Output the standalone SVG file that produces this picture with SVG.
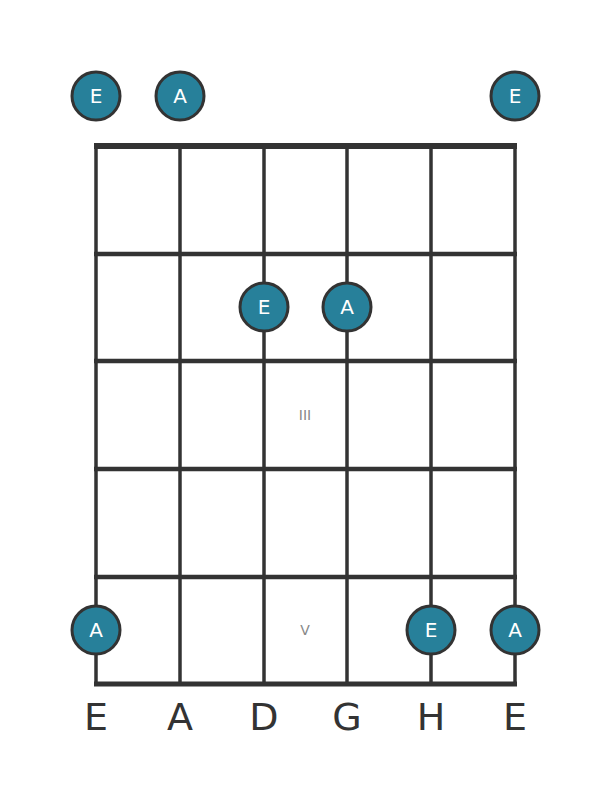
<svg xmlns="http://www.w3.org/2000/svg" width="611" height="801" viewBox="0 0 611 801">
<style>
.s{stroke:#333;stroke-width:3.5;fill:none}
.f{stroke:#333;stroke-width:4.5;fill:none}
.n circle{fill:#27809a;stroke:#333;stroke-width:3}
.n text{fill:#fff;font-family:"DejaVu Sans",sans-serif;font-size:20px;text-anchor:middle;dominant-baseline:central}
.lab{fill:#333;font-family:"DejaVu Sans",sans-serif;font-size:38px;text-anchor:middle}
.fr{fill:#888;font-family:"DejaVu Sans",sans-serif;font-size:14px;text-anchor:middle;dominant-baseline:central}
</style>
<rect width="611" height="801" fill="#fff"/>
<g id="connectors">
<line class="s" x1="96" y1="146" x2="96" y2="684"/>
<line class="s" x1="180" y1="146" x2="180" y2="684"/>
<line class="s" x1="264" y1="146" x2="264" y2="684"/>
<line class="s" x1="347" y1="146" x2="347" y2="684"/>
<line class="s" x1="431" y1="146" x2="431" y2="684"/>
<line class="s" x1="515" y1="146" x2="515" y2="684"/>
<line class="f" x1="94" y1="146" x2="517" y2="146" style="stroke-width:6"/>
<line class="f" x1="94" y1="254" x2="517" y2="254"/>
<line class="f" x1="94" y1="361" x2="517" y2="361"/>
<line class="f" x1="94" y1="469" x2="517" y2="469"/>
<line class="f" x1="94" y1="577" x2="517" y2="577"/>
<line class="f" x1="94" y1="684" x2="517" y2="684" style="stroke-width:5"/>
</g>
<text class="fr" x="305" y="415">III</text>
<text class="fr" x="305" y="630">V</text>
<g id="n1" class="n"><circle cx="96" cy="96" r="24"/><text x="96" y="96">E</text></g>
<g id="n2" class="n"><circle cx="180" cy="96" r="24"/><text x="180" y="96">A</text></g>
<g id="n3" class="n"><circle cx="515" cy="96" r="24"/><text x="515" y="96">E</text></g>
<g id="n4" class="n"><circle cx="264" cy="307" r="24"/><text x="264" y="307">E</text></g>
<g id="n5" class="n"><circle cx="347" cy="307" r="24"/><text x="347" y="307">A</text></g>
<g id="n6" class="n"><circle cx="96" cy="630" r="24"/><text x="96" y="630">A</text></g>
<g id="n7" class="n"><circle cx="431" cy="630" r="24"/><text x="431" y="630">E</text></g>
<g id="n8" class="n"><circle cx="515" cy="630" r="24"/><text x="515" y="630">A</text></g>
<g id="labels">
<text class="lab" x="96" y="730">E</text>
<text class="lab" x="180" y="730">A</text>
<text class="lab" x="264" y="730">D</text>
<text class="lab" x="347" y="730">G</text>
<text class="lab" x="431" y="730">H</text>
<text class="lab" x="515" y="730">E</text>
</g>
</svg>
